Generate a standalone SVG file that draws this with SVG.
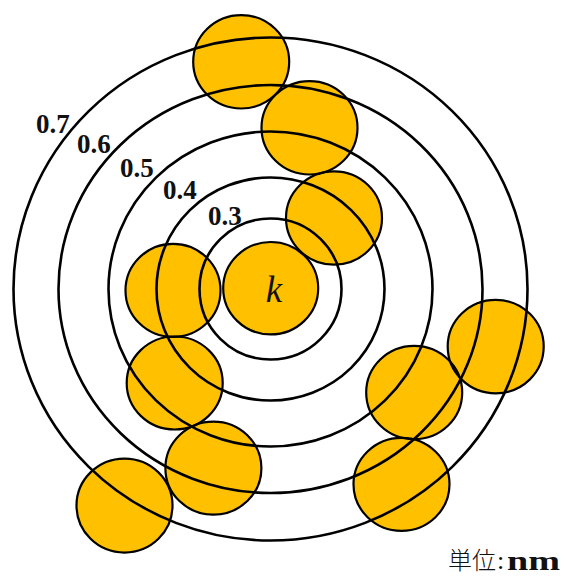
<svg xmlns="http://www.w3.org/2000/svg" width="566" height="577" viewBox="0 0 566 577">
<style>
.ball{fill:#FFC000;stroke:none}
.ballo{fill:none;stroke:#000;stroke-width:2.2}
.ring{fill:none;stroke:#000;stroke-width:2.6}
.lbl{font-family:"Liberation Serif",serif;font-size:27px;font-weight:bold;fill:#111}
</style>
<rect width="566" height="577" fill="#fff"/>
<g id="balls-fill">
<ellipse class="ball" cx="241.2" cy="61.8" rx="48" ry="46.7"/>
<ellipse class="ball" cx="309.5" cy="127.8" rx="48" ry="46.7"/>
<ellipse class="ball" cx="334" cy="218" rx="48" ry="46.7"/>
<ellipse class="ball" cx="270.7" cy="288.2" rx="47.5" ry="46.2"/>
<ellipse class="ball" cx="173" cy="290.4" rx="47.5" ry="46.5"/>
<ellipse class="ball" cx="174.7" cy="383" rx="48" ry="46.5"/>
<ellipse class="ball" cx="213.4" cy="468.2" rx="48" ry="46.5"/>
<ellipse class="ball" cx="124.5" cy="505.6" rx="48" ry="47"/>
<ellipse class="ball" cx="414.2" cy="392.5" rx="48" ry="46.7"/>
<ellipse class="ball" cx="495.7" cy="346.6" rx="48" ry="46.7"/>
<ellipse class="ball" cx="401.5" cy="484.3" rx="48" ry="46.5"/>
</g>
<g id="balls-outline">
<ellipse class="ballo" cx="241.2" cy="61.8" rx="48" ry="46.7"/>
<ellipse class="ballo" cx="309.5" cy="127.8" rx="48" ry="46.7"/>
<ellipse class="ballo" cx="334" cy="218" rx="48" ry="46.7"/>
<ellipse class="ballo" cx="270.7" cy="288.2" rx="47.5" ry="46.2"/>
<ellipse class="ballo" cx="173" cy="290.4" rx="47.5" ry="46.5"/>
<ellipse class="ballo" cx="174.7" cy="383" rx="48" ry="46.5"/>
<ellipse class="ballo" cx="213.4" cy="468.2" rx="48" ry="46.5"/>
<ellipse class="ballo" cx="124.5" cy="505.6" rx="48" ry="47"/>
<ellipse class="ballo" cx="414.2" cy="392.5" rx="48" ry="46.7"/>
<ellipse class="ballo" cx="495.7" cy="346.6" rx="48" ry="46.7"/>
<ellipse class="ballo" cx="401.5" cy="484.3" rx="48" ry="46.5"/>
</g>
<g id="rings">
<ellipse class="ring" cx="270.5" cy="289" rx="71" ry="70.5"/>
<ellipse class="ring" cx="270.5" cy="289" rx="114" ry="111.5"/>
<ellipse class="ring" cx="270.5" cy="289" rx="162" ry="157.5"/>
<ellipse class="ring" cx="270.5" cy="289" rx="212" ry="204"/>
<ellipse class="ring" cx="270.5" cy="289" rx="257" ry="251.5"/>
</g>
<g id="labels">
<text class="lbl" x="36" y="133">0.7</text>
<text class="lbl" x="77" y="153">0.6</text>
<text class="lbl" x="120" y="177">0.5</text>
<text class="lbl" x="163" y="199">0.4</text>
<text class="lbl" x="208" y="225">0.3</text>
<text x="274" y="302" text-anchor="middle" font-family="'Liberation Serif',serif" font-style="italic" font-size="37" fill="#111">k</text>
<text y="569" fill="#111"><tspan x="448" font-family="'Noto Sans CJK JP',sans-serif" font-size="24" font-weight="300">単位</tspan><tspan x="497" font-family="'Liberation Serif',serif" font-size="26">:</tspan><tspan x="507" y="570" font-family="'Liberation Serif',serif" font-size="28" font-weight="bold" textLength="53" lengthAdjust="spacingAndGlyphs">nm</tspan></text>
</g>
</svg>
